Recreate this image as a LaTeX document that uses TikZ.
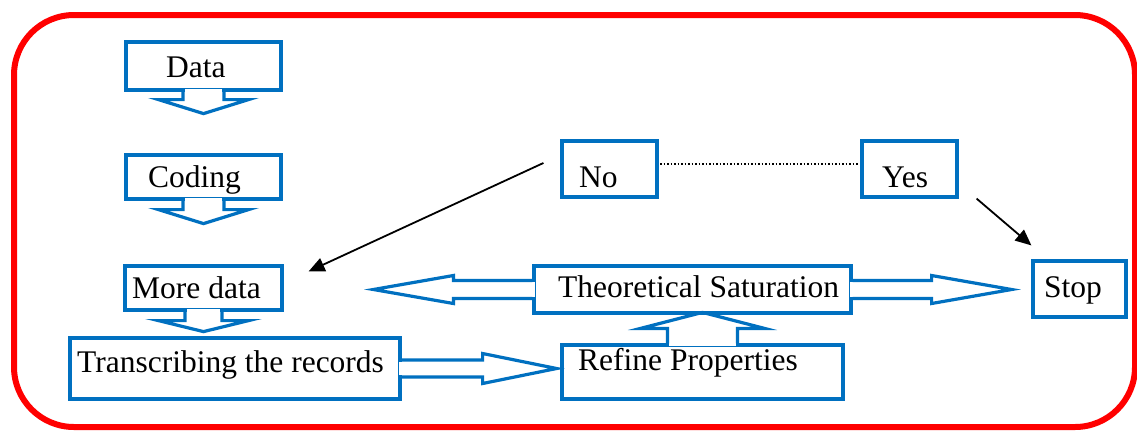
\documentclass[tikz,border=0pt]{standalone}
\usepackage{fontspec}
\setmainfont{Liberation Serif}
\usetikzlibrary{calc,arrows.meta}
\definecolor{bl}{HTML}{0070C0}
\begin{document}
\begin{tikzpicture}[x=1pt,y=-1pt,
  box/.style={draw=bl,line width=3.2pt,rectangle,inner sep=0pt,fill=white},
  shp/.style={draw=bl,line width=3.2pt,line join=miter},
  txt/.style={font=\fontsize{31.5}{36}\selectfont,inner sep=0pt,anchor=base west},
  arr/.style={draw=black,line width=1.8pt,-{Triangle[length=16pt,width=14pt]}},
  dots/.style={draw=black,line width=1.5pt,dash pattern=on 1.5pt off 2pt}
]
\useasboundingbox (0,0) rectangle (1137,432);
\draw[red,line width=6pt,rounded corners=60pt] (14,15) rectangle (1135,427);

% boxes
\node[box,minimum width=155pt,minimum height=48pt] (data) at (203.5,66) {};
\node[box,minimum width=155pt,minimum height=44pt] (coding) at (203.5,177) {};
\node[box,minimum width=157pt,minimum height=44pt] (more) at (203.5,288) {};
\node[box,minimum width=330pt,minimum height=61pt] (trans) at (235,368.5) {};
\node[box,minimum width=281pt,minimum height=54pt] (refine) at (702.5,372) {};
\node[box,minimum width=317pt,minimum height=47pt] (ts) at (692.5,289.5) {};
\node[box,minimum width=95pt,minimum height=56pt] (no) at (609.5,169) {};
\node[box,minimum width=95pt,minimum height=56pt] (yes) at (909.5,169) {};
\node[box,minimum width=93pt,minimum height=56pt] (stop) at (1079.5,289) {};

% down callouts
\foreach \n/\s/\w/\l/\h in {data/20.5/45/8/14,coding/20.5/45/9/14,more/18.5/45/9/11}{
  \fill[white] ($(\n.south)+(-\s+1.6,-2.5)$) rectangle ($(\n.south)+(\s-1.6,2.5)$);
  \draw[shp] ($(\n.south)+(-\s,0)$) -- ++(0,\l) -- ++(-\w+\s,0) -- ++(\w,\h) -- ++(\w,-\h) -- ++(-\w+\s,0) -- ++(0,-\l);
}

% right arrow from transcribing
\fill[white] ($(trans.east)+(-2.5,-8.5+1.6)$) rectangle ($(trans.east)+(2.5,8.5-1.6)$);
\draw[shp] ($(trans.east)+(0,-8.5)$) -- ++(81,0) -- ++(0,-6.5) -- ++(74,15) -- ++(-74,15) -- ++(0,-6.5) -- ++(-81,0);

% left-right arrows of theoretical saturation
\fill[white] ($(ts.west)+(-2.5,-9+1.6)$) rectangle ($(ts.west)+(2.5,9-1.6)$);
\fill[white] ($(ts.east)+(-2.5,-9+1.6)$) rectangle ($(ts.east)+(2.5,9-1.6)$);
\draw[shp] ($(ts.west)+(0,-9)$) -- ++(-79,0) -- ++(0,-5) -- ++(-80,14) -- ++(80,14) -- ++(0,-5) -- ++(79,0);
\draw[shp] ($(ts.east)+(0,-9)$) -- ++(79,0) -- ++(0,-5) -- ++(80,14) -- ++(-80,14) -- ++(0,-5) -- ++(-79,0);

% up arrow from refine
\fill[white] ($(refine.north)+(-35+1.6,-2.5)$) rectangle ($(refine.north)+(35-1.6,2.5)$);
\draw[shp] ($(refine.north)+(-35,0)$) -- ++(0,-15) -- ++(-27,0) -- ++(62,-16) -- ++(62,16) -- ++(-27,0) -- ++(0,15);

% texts
\node[txt] (datat) at (166,77) {Data};
\node[txt] (codingt) at (148,187) {Coding};
\node[txt] (moret) at (132,298) {More data};
\node[txt] (transt) at (77,372) {Transcribing the records};
\node[txt] (refinet) at (578,370) {Refine Properties};
\node[txt] (tst) at (558,297) {Theoretical Saturation};
\node[txt] (not) at (579,187) {No};
\node[txt] (yest) at (882,187) {Yes};
\node[txt] (stopt) at (1044,297) {Stop};

% connectors
\draw[dots] ($(no.east)+(1.6,-5)$) -- ($(yes.west)+(-1.6,-5)$);
\draw[arr] ($(no.west)+(-17,-6)$) -- ($(more.north east)+(25,7)$);
\draw[arr] ($(yes.south east)+(18,0)$) -- ($(stop.north west)+(0,-14)$);
\end{tikzpicture}
\end{document}
